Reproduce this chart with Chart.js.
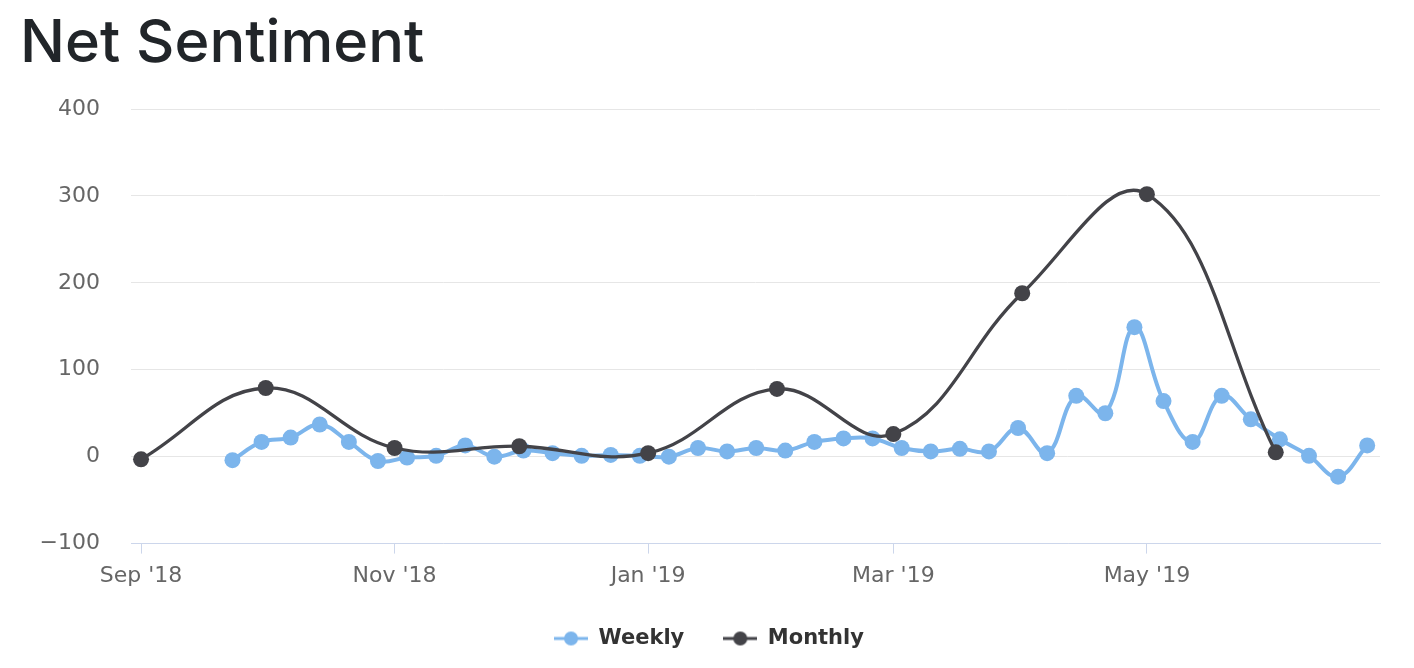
<!DOCTYPE html>
<html>
<head>
<meta charset="utf-8">
<script src="https://cdn.jsdelivr.net/npm/chart.js@4"></script>
<style>
html,body{margin:0;padding:0;background:#fff;}
#wrap{position:relative;width:1414px;height:668px;overflow:hidden;}
h1{position:absolute;left:20px;top:0;margin:0;font-family:Inter,"Noto Sans",sans-serif;font-weight:500;font-size:59.5px;line-height:80px;color:#212529;white-space:nowrap;}
canvas{position:absolute;left:0;top:0;}
</style>
</head>
<body>
<div id="wrap">
<h1>Net Sentiment</h1>
<canvas id="c" width="1414" height="668"></canvas>
</div>
<script>
// ---- data ----
const weeklyDates = ['2018-09-23','2018-09-30','2018-10-07','2018-10-14','2018-10-21','2018-10-28',
  '2018-11-04','2018-11-11','2018-11-18','2018-11-25','2018-12-02','2018-12-09','2018-12-16','2018-12-23','2018-12-30',
  '2019-01-06','2019-01-13','2019-01-20','2019-01-27','2019-02-03','2019-02-10','2019-02-17','2019-02-24',
  '2019-03-03','2019-03-10','2019-03-17','2019-03-24','2019-03-31','2019-04-07','2019-04-14','2019-04-21','2019-04-28',
  '2019-05-05','2019-05-12','2019-05-19','2019-05-26','2019-06-02','2019-06-09','2019-06-16','2019-06-23'];
const weeklyValues = [-4,17,22,37,17,-5,-1,1,13,0,7,4,1,2,1,0,10,6,10,7,17,21,21,10,6,9,6,33,4,70,50,149,64,17,70,43,20,1,-23,13];
const monthlyDates = ['2018-09-01','2018-10-01','2018-11-01','2018-12-01','2019-01-01','2019-02-01','2019-03-01','2019-04-01','2019-05-01','2019-06-01'];
const monthlyValues = [-3,79,10,12,4,78,26,188,302,5];
const tickDates = ['2018-09-01','2018-11-01','2019-01-01','2019-03-01','2019-05-01'];
const tickLabels = ["Sep '18","Nov '18","Jan '19","Mar '19","May '19"];
const seriesNames = ['Weekly','Monthly'];
const seriesColors = ['#7cb5ec','#434348'];
const xRangeStart = '2018-08-29T14:00:00Z';
const xRangeEnd = '2019-06-26T02:00:00Z';

// ---- helpers ----
const toPts = (dates, vals) => dates.map((d, i) => ({x: Date.parse(d), y: vals[i]}));
function legendSymbol(color) {
  const cv = document.createElement('canvas');
  cv.width = 34; cv.height = 16;
  const g = cv.getContext('2d');
  g.strokeStyle = color; g.lineWidth = 3;
  g.beginPath(); g.moveTo(0, 8); g.lineTo(34, 8); g.stroke();
  g.fillStyle = color;
  g.beginPath(); g.arc(17, 8, 7, 0, Math.PI * 2); g.fill();
  return cv;
}
const symbols = seriesColors.map(legendSymbol);
const tickFont = {family: '"DejaVu Sans", sans-serif', size: 22};

new Chart(document.getElementById('c'), {
  type: 'line',
  data: {
    datasets: [
      {
        label: seriesNames[0], data: toPts(weeklyDates, weeklyValues),
        borderColor: seriesColors[0], backgroundColor: seriesColors[0],
        pointBackgroundColor: seriesColors[0], pointBorderWidth: 0, pointRadius: 8, pointHoverRadius: 8,
        borderWidth: 4, tension: 0.4, order: 1
      },
      {
        label: seriesNames[1], data: toPts(monthlyDates, monthlyValues),
        borderColor: seriesColors[1], backgroundColor: seriesColors[1],
        pointBackgroundColor: seriesColors[1], pointBorderWidth: 0, pointRadius: 8, pointHoverRadius: 8,
        borderWidth: 3.3, tension: 0.4, order: 0
      }
    ]
  },
  options: {
    responsive: false,
    devicePixelRatio: 1,
    animation: false,
    events: [],
    layout: {padding: {top: 109, left: 38, right: 34, bottom: 9}},
    scales: {
      x: {
        type: 'linear',
        min: Date.parse(xRangeStart), max: Date.parse(xRangeEnd),
        afterBuildTicks: (axis) => { axis.ticks = tickDates.map(d => ({value: Date.parse(d)})); },
        afterFit: (axis) => { axis.height -= 9; },
        ticks: {
          autoSkip: false, maxRotation: 0, padding: 9, color: '#666666', font: tickFont,
          callback: (v, i) => tickLabels[i]
        },
        grid: {drawOnChartArea: false, drawTicks: true, tickLength: 10, color: '#ccd6eb', lineWidth: 1},
        border: {display: true, color: '#ccd6eb', width: 1}
      },
      y: {
        min: -100, max: 400,
        afterFit: (axis) => { axis.width = 93; },
        ticks: {
          stepSize: 100, padding: 31, color: '#666666', font: tickFont,
          callback: (v) => v < 0 ? '\u2212' + Math.abs(v) : String(v)
        },
        grid: {color: '#e6e6e6', lineWidth: 1, drawTicks: false},
        border: {display: false}
      }
    },
    plugins: {
      title: {display: false},
      tooltip: {enabled: false},
      legend: {
        position: 'bottom',
        labels: {
          usePointStyle: true, pointStyleWidth: 34, padding: 39,
          color: '#333333',
          font: {family: '"DejaVu Sans", sans-serif', size: 21, weight: 'bold'},
          sort: (a, b) => a.datasetIndex - b.datasetIndex,
          generateLabels: (chart) => {
            const items = Chart.defaults.plugins.legend.labels.generateLabels(chart);
            items.forEach(it => { it.pointStyle = symbols[it.datasetIndex]; });
            return items;
          }
        }
      }
    }
  }
});
</script>
</body>
</html>
